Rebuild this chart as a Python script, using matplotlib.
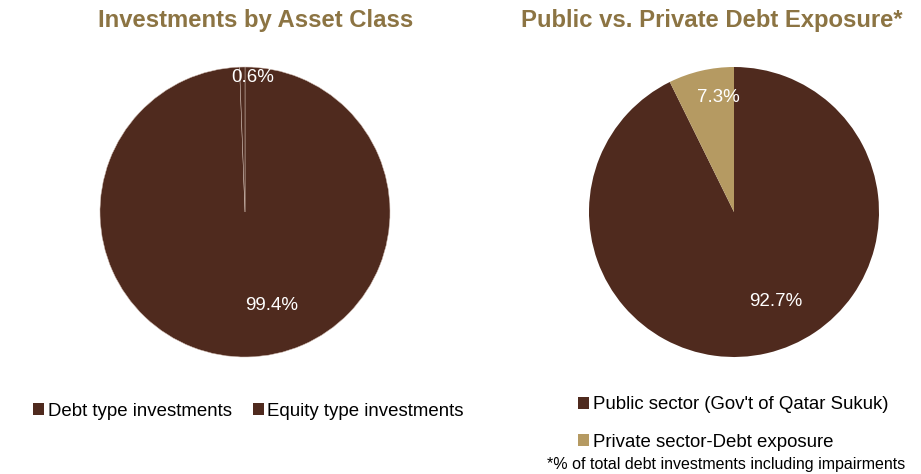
import matplotlib
matplotlib.use("Agg")
import matplotlib.pyplot as plt
from matplotlib.patches import Patch

plt.rcParams['font.family'] = ['Liberation Sans', 'DejaVu Sans']

left_title = "Investments by Asset Class"
left_labels = ["Debt type investments", "Equity type investments"]
left_values = [99.4, 0.6]
right_title = "Public vs. Private Debt Exposure*"
right_labels = ["Public sector (Gov't of Qatar Sukuk)", "Private sector-Debt exposure"]
right_values = [92.7, 7.3]
footnote = "*% of total debt investments including impairments"

BROWN = "#4F2A1E"
TAN = "#B59A62"
TITLE = "#8C7443"
left_colors = [BROWN, BROWN]
right_colors = [BROWN, TAN]

W, H = 921, 474
fig = plt.figure(figsize=(W / 100, H / 100), dpi=100)

def ax_at(cx, cy, r):
    return fig.add_axes([(cx - r) / W, 1 - (cy + r) / H, 2 * r / W, 2 * r / H])

PCT = 13.5

axL = ax_at(245, 212, 145)
axL.pie(left_values, colors=left_colors, startangle=90, counterclock=False,
        wedgeprops=dict(edgecolor="#cdb8ae", linewidth=0.35))
axL.set_xlim(-1, 1); axL.set_ylim(-1, 1); axL.set_aspect('equal'); axL.axis('off')
axL.text(27 / 145, -93 / 145, f"{left_values[0]}%", color="white", fontsize=PCT, ha="center", va="center")
axL.text(8 / 145, 134 / 145, f"{left_values[1]}%", color="white", fontsize=PCT, ha="center", va="center")

axR = ax_at(734, 212, 145)
axR.pie(right_values, colors=right_colors, startangle=90, counterclock=False,
        wedgeprops=dict(edgecolor="none", linewidth=0))
axR.set_xlim(-1, 1); axR.set_ylim(-1, 1); axR.set_aspect('equal'); axR.axis('off')
axR.text(42 / 145, -89 / 145, f"{right_values[0]}%", color="white", fontsize=PCT, ha="center", va="center")
axR.text(-16 / 145, 115 / 145, f"{right_values[1]}%", color="white", fontsize=PCT, ha="center", va="center")

fig.text(256 / W, 1 - 20 / H, left_title, color=TITLE, fontsize=17.2, fontweight="bold", ha="center", va="center")
fig.text(712 / W, 1 - 20 / H, right_title, color=TITLE, fontsize=17.2, fontweight="bold", ha="center", va="center")

LEG = 13.4
hl = [Patch(facecolor=c, edgecolor="none") for c in left_colors]
fig.legend(hl, left_labels, loc="center left", bbox_to_anchor=(33 / W, 1 - 411 / H), ncol=2,
           frameon=False, fontsize=LEG, handlelength=0.6, handleheight=0.6, handletextpad=0.18,
           columnspacing=1.15, borderaxespad=0, borderpad=0)

hr = [Patch(facecolor=c, edgecolor="none") for c in right_colors]
fig.legend(hr, right_labels, loc="center left", bbox_to_anchor=(578 / W, 1 - 423.5 / H), ncol=1,
           frameon=False, fontsize=LEG, handlelength=0.6, handleheight=0.6, handletextpad=0.18,
           labelspacing=1.11, borderaxespad=0, borderpad=0)

fig.text(905 / W, 1 - 464 / H, footnote, color="black", fontsize=11.5, ha="right", va="center")

fig.savefig("out.png", dpi=100, facecolor="white")
